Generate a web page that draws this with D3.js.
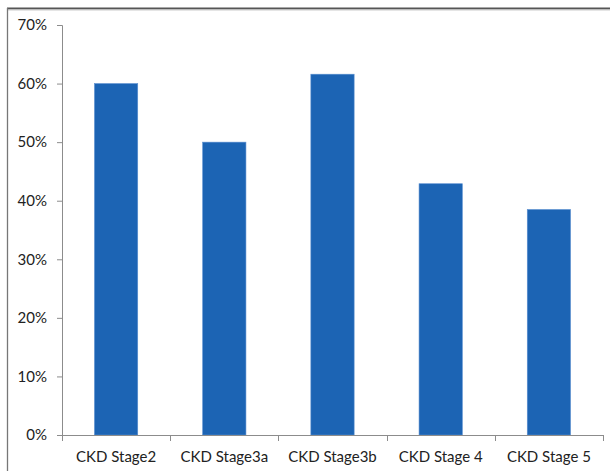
<!DOCTYPE html>
<html>
<head>
<meta charset="utf-8">
<script src="https://cdn.jsdelivr.net/npm/d3@7"></script>
<style>
  html, body { margin: 0; padding: 0; background: #fff; }
  svg { display: block; }
</style>
</head>
<body>
<script>
// Share of patients by CKD stage
const categories = ["CKD Stage2", "CKD Stage3a", "CKD Stage3b", "CKD Stage 4", "CKD Stage 5"];
const values = [60.0, 50.0, 61.6, 42.9, 38.5];
const yTicks = [0, 10, 20, 30, 40, 50, 60, 70];

const W = 610, H = 471;
const margin = { left: 62, right: 7, top: 25, bottom: 36 };

const svg = d3.select("body").append("svg")
  .attr("width", W).attr("height", H);

// outer frame (top and left edges visible)
svg.append("line").attr("x1", 7).attr("x2", W).attr("y1", 8.5).attr("y2", 8.5)
  .attr("stroke", "#555").attr("stroke-width", 2);
svg.append("line").attr("x1", 7).attr("x2", W).attr("y1", 10).attr("y2", 10)
  .attr("stroke", "#ccc").attr("stroke-width", 1);
svg.append("line").attr("x1", 7.5).attr("x2", 7.5).attr("y1", 8).attr("y2", H)
  .attr("stroke", "#777").attr("stroke-width", 1.3);

const x = d3.scaleBand()
  .domain(categories)
  .range([margin.left, W - margin.right])
  .paddingInner(0.6).paddingOuter(0.3);

const xOuter = d3.scaleBand()
  .domain(categories)
  .range([margin.left, W - margin.right]);

const y = d3.scaleLinear()
  .domain([0, 70])
  .range([H - margin.bottom, margin.top]);

const font = "Lato, 'Open Sans', sans-serif";

// bars
svg.append("g").selectAll("rect")
  .data(categories)
  .join("rect")
  .attr("x", d => x(d))
  .attr("width", x.bandwidth())
  .attr("y", (d, i) => y(values[i]))
  .attr("height", (d, i) => y(0) - y(values[i]))
  .attr("fill", "#1c64b4")
  .attr("stroke", "#5b8fd0")
  .attr("stroke-width", 0.6);

// y axis
const yAxis = d3.axisLeft(y)
  .tickValues(yTicks)
  .tickFormat(d => d + "%")
  .tickSize(5)
  .tickPadding(10);
const gy = svg.append("g")
  .attr("transform", `translate(${margin.left},0)`)
  .call(yAxis);
gy.select(".domain").attr("stroke", "#8c8c8c");
gy.selectAll(".tick line").attr("stroke", "#8c8c8c");
gy.selectAll(".tick text")
  .attr("font-family", font).attr("font-size", 15).attr("fill", "#222");

// x axis: ticks at category boundaries
const boundaries = categories.map(c => xOuter(c)).concat([W - margin.right]);
const gx = svg.append("g").attr("transform", `translate(0,${y(0)})`);
gx.append("line")
  .attr("x1", margin.left).attr("x2", W - margin.right)
  .attr("y1", 0.5).attr("y2", 0.5)
  .attr("stroke", "#8c8c8c");
gx.selectAll("line.tk").data(boundaries).join("line")
  .attr("class", "tk")
  .attr("x1", d => Math.round(d) + 0.5).attr("x2", d => Math.round(d) + 0.5)
  .attr("y1", 0).attr("y2", 6)
  .attr("stroke", "#8c8c8c");
gx.selectAll("text").data(categories).join("text")
  .attr("x", d => xOuter(d) + xOuter.bandwidth() / 2)
  .attr("y", 27)
  .attr("text-anchor", "middle")
  .attr("font-family", font).attr("font-size", 15).attr("fill", "#222")
  .text(d => d);
</script>
</body>
</html>
